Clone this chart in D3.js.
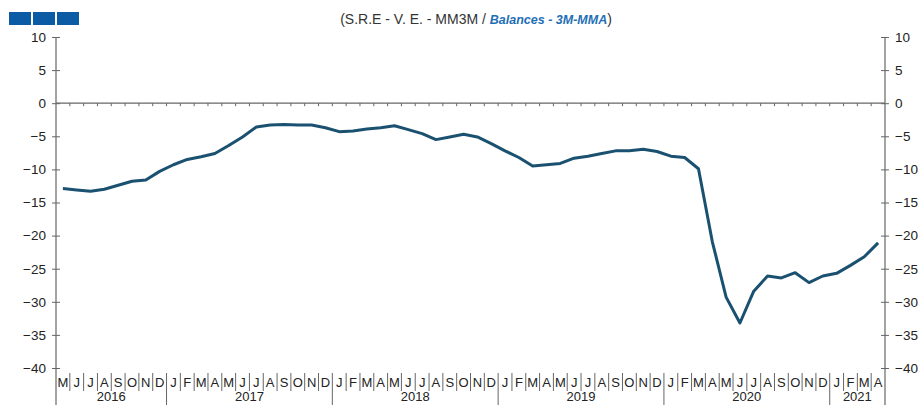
<!DOCTYPE html>
<html>
<head>
<meta charset="utf-8">
<script src="https://cdnjs.cloudflare.com/ajax/libs/d3/7.8.5/d3.min.js"></script>
<style>
  body { margin: 0; background: #fff; }
  svg text { font-family: "Liberation Sans", Arial, sans-serif; }
</style>
</head>
<body>
<svg id="chart" width="921" height="405"></svg>
<script>
// months from May 2016 to Apr 2021
var monthLetters = ["M","J","J","A","S","O","N","D",
  "J","F","M","A","M","J","J","A","S","O","N","D",
  "J","F","M","A","M","J","J","A","S","O","N","D",
  "J","F","M","A","M","J","J","A","S","O","N","D",
  "J","F","M","A","M","J","J","A","S","O","N","D",
  "J","F","M","A"];

var years = ["2016", "2017", "2018", "2019", "2020", "2021"];
var monthsPerYear = [8, 12, 12, 12, 12, 4];

var balances = [-12.9, -13.1, -13.3, -13.0, -12.4, -11.8, -11.6, -10.3,
  -9.3, -8.5, -8.1, -7.6, -6.4, -5.1, -3.6, -3.3, -3.2, -3.3, -3.3, -3.7,
  -4.3, -4.2, -3.9, -3.7, -3.4, -4.0, -4.6, -5.5, -5.1, -4.7, -5.1, -6.1,
  -7.2, -8.2, -9.5, -9.3, -9.1, -8.3, -8.0, -7.6, -7.2, -7.2, -6.95, -7.3,
  -8.0, -8.2, -9.9, -20.9, -29.3, -33.2, -28.4, -26.1, -26.4, -25.6, -27.1, -26.1,
  -25.7, -24.5, -23.2, -21.1];

var yTicks = [10, 5, 0, -5, -10, -15, -20, -25, -30, -35, -40];

var svg = d3.select("#chart");
var plotLeft = 56, plotRight = 885, plotTop = 37, plotBottom = 368;

var x = d3.scaleBand()
    .domain(d3.range(monthLetters.length))
    .range([plotLeft, plotRight])
    .paddingInner(0).paddingOuter(0);

var y = d3.scaleLinear().domain([-40, 10]).range([plotBottom, plotTop]);

// logo
svg.selectAll("rect.logo")
  .data([0, 1, 2])
  .enter().append("rect")
  .attr("class", "logo")
  .attr("x", function(d) { return 9 + d * 24; })
  .attr("y", 12)
  .attr("width", 22)
  .attr("height", 13)
  .attr("fill", "#0b5ca5");

// title
var title = svg.append("text")
  .attr("x", 476).attr("y", 24)
  .attr("text-anchor", "middle")
  .style("font-size", "14px")
  .attr("fill", "#333");
title.append("tspan").text("(S.R.E - V. E. - MM3M / ");
title.append("tspan").text("Balances - 3M-MMA")
  .attr("fill", "#1f6fb5").style("font-style", "italic").style("font-weight", "bold").style("font-size", "12.5px");
title.append("tspan").text(")");

// y axes
var axisColor = "#666";
var yl = svg.append("g")
  .attr("transform", "translate(" + plotLeft + ",0)")
  .call(d3.axisLeft(y).tickValues(yTicks).tickSize(4).tickPadding(6));
var yr = svg.append("g")
  .attr("transform", "translate(" + plotRight + ",0)")
  .call(d3.axisRight(y).tickValues(yTicks).tickSize(4).tickPadding(6));

[yl, yr].forEach(function(g) {
  g.select(".domain").remove();
  g.selectAll(".tick line").attr("stroke", axisColor);
  g.selectAll(".tick text").style("font-size", "13.5px").attr("fill", "#222")
    .style("font-family", "Liberation Sans, Arial, sans-serif");
});
// ticks cross the axis
yl.selectAll(".tick line").attr("x1", 4);
yr.selectAll(".tick line").attr("x1", -4);

// vertical axis lines, extended to the bottom
svg.append("line").attr("x1", plotLeft).attr("x2", plotLeft).attr("y1", plotTop).attr("y2", 405)
  .attr("stroke", axisColor).attr("stroke-width", 1.2);
svg.append("line").attr("x1", plotRight).attr("x2", plotRight).attr("y1", plotTop).attr("y2", 405)
  .attr("stroke", axisColor).attr("stroke-width", 1.2);

// zero line with small month ticks
svg.append("line").attr("x1", plotLeft).attr("x2", plotRight)
  .attr("y1", y(0)).attr("y2", y(0))
  .attr("stroke", axisColor).attr("stroke-width", 1.2);
svg.selectAll("line.ztick")
  .data(d3.range(1, monthLetters.length))
  .enter().append("line")
  .attr("class", "ztick")
  .attr("x1", function(d) { return x(d); })
  .attr("x2", function(d) { return x(d); })
  .attr("y1", y(0)).attr("y2", y(0) + 3)
  .attr("stroke", axisColor);

// month labels and separators
var yearStarts = [];
var acc = 0;
monthsPerYear.forEach(function(n) { yearStarts.push(acc); acc += n; });

svg.selectAll("line.msep")
  .data(d3.range(1, monthLetters.length).filter(function(d) { return yearStarts.indexOf(d) < 0; }))
  .enter().append("line")
  .attr("class", "msep")
  .attr("x1", function(d) { return x(d); })
  .attr("x2", function(d) { return x(d); })
  .attr("y1", 373).attr("y2", 391)
  .attr("stroke", axisColor);

svg.selectAll("line.ysep")
  .data(yearStarts.slice(1))
  .enter().append("line")
  .attr("class", "ysep")
  .attr("x1", function(d) { return x(d); })
  .attr("x2", function(d) { return x(d); })
  .attr("y1", 373).attr("y2", 405)
  .attr("stroke", axisColor);

svg.selectAll("text.month")
  .data(monthLetters)
  .enter().append("text")
  .attr("class", "month")
  .attr("x", function(d, i) { return x(i) + x.bandwidth() / 2; })
  .attr("y", 387)
  .attr("text-anchor", "middle")
  .style("font-size", "13px")
  .attr("fill", "#222")
  .text(function(d) { return d; });

svg.selectAll("text.year")
  .data(years)
  .enter().append("text")
  .attr("class", "year")
  .attr("x", function(d, i) {
    var s = yearStarts[i], e = s + monthsPerYear[i];
    return (x(s) + x(e - 1) + x.bandwidth()) / 2;
  })
  .attr("y", 401)
  .attr("text-anchor", "middle")
  .style("font-size", "13px")
  .attr("fill", "#222")
  .text(function(d) { return d; });

// series line
var line = d3.line()
  .x(function(d, i) { return x(i) + x.bandwidth() / 2; })
  .y(function(d) { return y(d); });

svg.append("path")
  .datum(balances)
  .attr("d", line)
  .attr("fill", "none")
  .attr("stroke", "#1b5170")
  .attr("stroke-width", 3)
  .attr("stroke-linejoin", "round");
</script>
</body>
</html>
